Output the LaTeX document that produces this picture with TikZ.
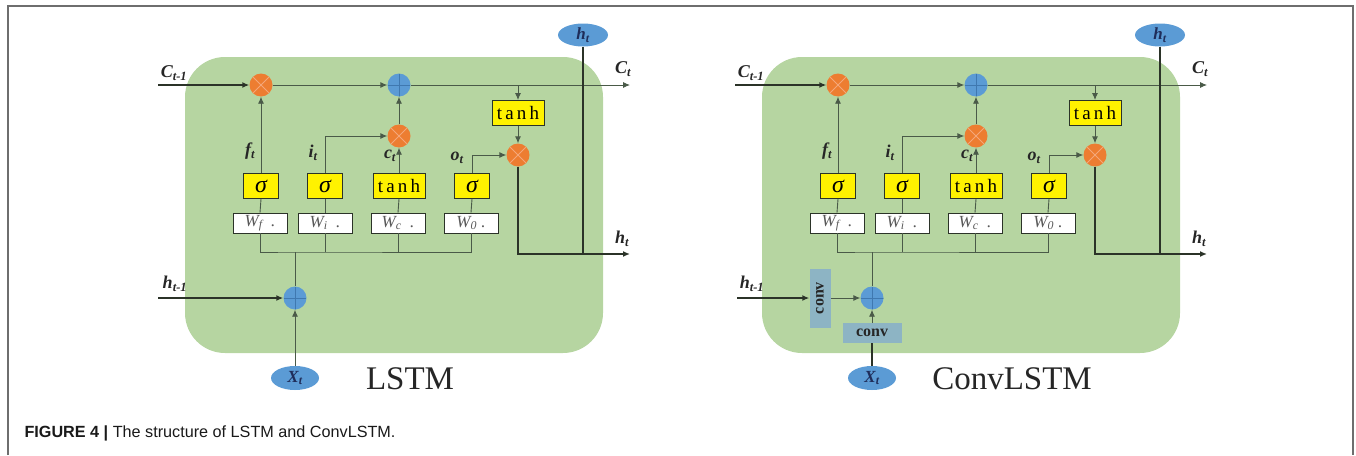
\documentclass[tikz,border=0pt]{standalone}
\usepackage{fontspec}
\setmainfont{Liberation Serif}
\setsansfont{Liberation Sans}
\usepackage{tikz}
\usetikzlibrary{arrows.meta, shapes, positioning}

\definecolor{cellgreen}{HTML}{B6D5A1}
\definecolor{opOrange}{HTML}{ED7D31}
\definecolor{opBlue}{HTML}{5B9BD5}
\definecolor{crossLine}{HTML}{F4A77A}
\definecolor{plusLine}{HTML}{3F78B0}
\definecolor{convBlue}{HTML}{8DB4C4}
\definecolor{lineGray}{HTML}{4A5A48}
\definecolor{lineDark}{HTML}{2B3328}
\definecolor{navyText}{HTML}{1F2D5A}
\definecolor{frameGray}{HTML}{6E6E6E}

\tikzset{
  cell/.style={fill=cellgreen, rounded corners=40pt},
  mult/.style={circle, fill=opOrange, minimum size=23pt, inner sep=0pt,
    path picture={\draw[crossLine, line width=0.8pt]
      (path picture bounding box.south west) -- (path picture bounding box.north east)
      (path picture bounding box.north west) -- (path picture bounding box.south east);}},
  add/.style={circle, fill=opBlue, minimum size=23pt, inner sep=0pt,
    path picture={\draw[plusLine, line width=0.6pt]
      (path picture bounding box.north) -- (path picture bounding box.south)
      (path picture bounding box.west) -- (path picture bounding box.east);}},
  act/.style={draw=lineDark, fill=yellow, line width=0.9pt, minimum height=25pt, inner sep=0pt},
  sig/.style={act, minimum width=35pt, font=\fontsize{24}{24}\selectfont\itshape},
  tnh/.style={act, minimum width=52pt, font=\fontsize{19}{19}\selectfont},
  wbox/.style={draw=lineDark, fill=white, line width=0.7pt, minimum width=54pt, minimum height=20pt,
    inner sep=0pt, text=black!65, font=\fontsize{17}{17}\selectfont\itshape},
  port/.style={ellipse, fill=opBlue, minimum width=50pt, minimum height=23pt, inner sep=0pt,
    text=navyText, font=\fontsize{17}{17}\selectfont\bfseries\itshape},
  convbox/.style={fill=convBlue, inner sep=0pt, text=black!85, font=\fontsize{16}{16}\selectfont\bfseries},
  lab/.style={font=\fontsize{18}{18}\selectfont\bfseries\itshape, text=black!85},
  flow/.style={draw=lineGray, line width=0.9pt},
  heavy/.style={draw=lineDark, line width=2pt},
  title/.style={font=\fontsize{33}{33}\selectfont, text=black!85}
}

\begin{document}
\begin{tikzpicture}[x=1pt, y=-1pt, >={Latex[length=7pt,width=6pt]}]
  \useasboundingbox (0,0) rectangle (1356,455);
  \draw[frameGray, line width=1.4pt] (8,455) -- (8,6) -- (1353,6) -- (1353,455);

  \foreach \p/\dx in {L/0, R/577}{
    \begin{scope}[shift={(\dx,0)}]
      \fill[cell] (185,57) rectangle (603,353);

      % gates
      \node[sig] (\p-sigF) at (261,186) {σ};
      \node[sig] (\p-sigI) at (325,186) {σ};
      \node[tnh] (\p-tanhC) at (399,186) {t\,a\,n\,h};
      \node[sig] (\p-sigO) at (472,186) {σ};
      \node[wbox] (\p-Wf) at (260,223) {W\textsubscript{f}\ \ .};
      \node[wbox] (\p-Wi) at (325,223) {W\textsubscript{i}\ \ .};
      \node[wbox] (\p-Wc) at (398,223) {W\textsubscript{c}\ \ .};
      \node[wbox] (\p-Wo) at (471,223) {W\textsubscript{0}\ .};

      % cell state and output
      \coordinate (\p-cin) at (158,85);
      \node[mult] (\p-fx) at (261,85) {};
      \node[add] (\p-cplus) at (399,85) {};
      \coordinate (\p-cout) at (630,85);
      \node[mult] (\p-ix) at (399,136) {};
      \node[tnh] (\p-tanhO) at (518,113) {t\,a\,n\,h};
      \node[mult] (\p-ox) at (518,155) {};
      \coordinate (\p-hout) at (630,254);
      \node[port] (\p-htop) at (583,35) {h\textsubscript{t}};
      \coordinate (\p-bus) at (295,252);
      \node[add] (\p-hplus) at (295,298) {};
      \node[port, minimum width=48pt, minimum height=24pt] (\p-xin) at (295,378) {X\textsubscript{t}};

      \node[lab] (\p-clab) at (174,73) {C\textsubscript{t-1}};
      \node[lab] (\p-ctlab) at (623,69) {C\textsubscript{t}};
      \node[lab] (\p-htlab) at (622,239) {h\textsubscript{t}};
      \node[lab] (\p-hlab) at (175,284) {h\textsubscript{t-1}};
      \node[lab] (\p-flab) at (250,151) {f\textsubscript{t}};
      \node[lab] (\p-ilab) at (313,153) {i\textsubscript{t}};
      \node[lab] (\p-clab2) at (390,156) {c\textsubscript{t}};
      \node[lab] (\p-olab) at (457,158) {o\textsubscript{t}};

      \draw[heavy,->] (\p-cin) -- (\p-fx);
      \draw[flow,->] (\p-fx) -- (\p-cplus);
      \draw[flow,->] (\p-cplus) -- (\p-cout);
      \draw[flow,->] (\p-tanhO |- \p-cplus) -- (\p-tanhO);
      \draw[flow,->] (\p-tanhO) -- (\p-ox);
      \draw[flow,->] (\p-sigF) -- (\p-fx);
      \draw[flow,->] (\p-sigI) |- (\p-ix);
      \draw[flow,->] (\p-tanhC) -- (\p-ix);
      \draw[flow,->] (\p-ix) -- (\p-cplus);
      \draw[flow,->] (\p-sigO) |- (\p-ox);
      \draw[heavy,->] (\p-ox) |- (\p-hout);
      \draw[heavy] (\p-htop) -- (\p-htop |- \p-hout);

      \foreach \g/\s in {Wf/sigF, Wi/sigI, Wc/tanhC, Wo/sigO}
        \draw[flow] (\p-\g.north) -- (\p-\s.south);
      \draw[flow] (\p-Wf.south) |- (\p-bus) -| (\p-Wo.south);
      \draw[flow] (\p-Wi.south) -- (\p-Wi.south |- \p-bus);
      \draw[flow] (\p-Wc.south) -- (\p-Wc.south |- \p-bus);
      \draw[flow] (\p-bus) -- (\p-hplus);
    \end{scope}
  }

  % LSTM inputs
  \coordinate (L-hin) at (158,298);
  \draw[heavy,->] (L-hin) -- (L-hplus);
  \draw[flow,->] (L-xin) -- (L-hplus);

  % ConvLSTM inputs
  \coordinate (R-hin) at (737,298);
  \node[convbox, minimum width=21pt, minimum height=59pt] (R-convH) at (820,298) {\rotatebox{90}{conv}};
  \node[convbox, minimum width=59pt, minimum height=20pt] (R-convX) at (872,333) {conv};
  \draw[heavy,->] (R-hin) -- (R-convH);
  \draw[flow,->] (R-convH) -- (R-hplus);
  \draw[heavy] (R-xin) -- (R-convX);
  \draw[flow,->] (R-convX) -- (R-hplus);

  \node[title] (L-title) at (410,379) {LSTM};
  \node[title] (R-title) at (1012,379) {ConvLSTM};

  \node[anchor=west, font=\sffamily\fontsize{16.2}{17}\selectfont, text=black!90] (caption) at (21,433)
    {\textbf{FIGURE 4 |} The structure of LSTM and ConvLSTM.};
\end{tikzpicture}
\end{document}
